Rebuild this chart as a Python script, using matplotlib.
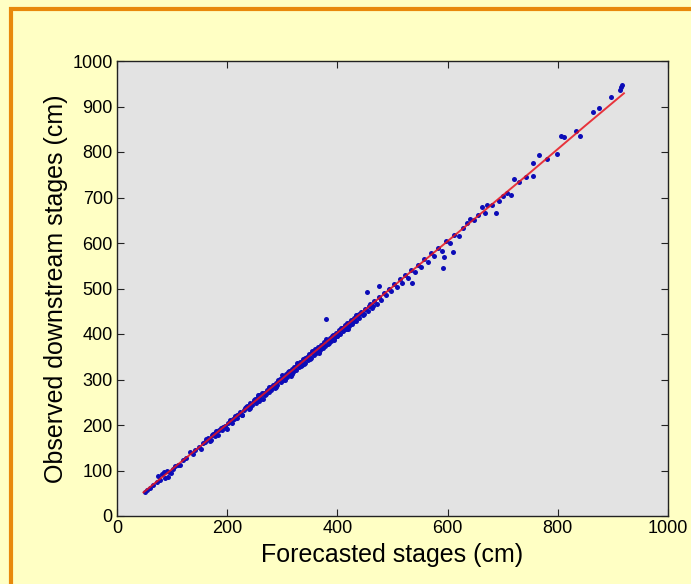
import numpy as np
import matplotlib.pyplot as plt

# forecasted vs observed downstream stages (cm)
forecast = [50, 55, 60, 66, 72, 75, 78, 82, 85, 88, 90, 92, 95, 98, 102, 106, 110, 115, 120, 126,
            132, 138, 142, 148, 152, 156, 160, 165, 168, 172, 175, 178, 180, 183, 186, 190, 193, 196, 199,
            202, 205, 208, 212, 215, 218, 221, 224, 227, 230, 233, 236, 239, 242, 245, 248, 250, 253, 256,
            258, 261, 264, 266, 269, 272, 275, 277, 280, 283, 285, 288, 291, 293, 296, 298, 301, 304, 306,
            309, 312, 314, 317, 320, 322, 325, 328, 330, 333, 336, 338, 341, 344, 346, 349, 352, 354, 357,
            360, 362, 365, 368, 370, 373, 376, 378, 379, 381, 384, 386, 389, 392, 394, 397, 400, 402, 405,
            408, 410, 413, 416, 418, 421, 424, 427, 430, 433, 436, 439, 442, 446, 450, 454, 455, 459, 463,
            467, 471, 475, 476, 480, 485, 489, 494, 498, 503, 508, 513, 518, 523, 528, 535, 534, 540, 546,
            552, 558, 564, 570, 576, 583, 590, 592, 594, 598, 605, 610, 612, 620, 628, 635, 641, 648, 655,
            662, 668, 671, 680, 688, 693, 700, 708, 715, 720, 730, 742, 755, 755, 766, 780, 799, 806, 812,
            833, 840, 864, 875, 897, 913, 915, 916,
            # extra points filling the dense middle band
            162, 170, 177, 188, 197, 210, 217, 226, 234, 241, 249, 257, 263, 271, 279, 286, 294, 302, 310,
            318, 326, 334, 342, 350, 358, 366, 374, 383, 391, 399, 407, 415, 423, 431, 440, 448, 457, 465,
            255, 265, 276, 289, 300, 315, 327, 340, 353, 367, 380, 393, 406, 420, 434]
observed = [53, 57, 62, 68, 75, 88, 80, 92, 97, 84, 99, 86, 96, 94, 104, 110, 112, 113, 122, 128,
            140, 136, 145, 151, 147, 160, 162, 172, 165, 178, 181, 175, 186, 179, 190, 188, 196, 198, 192,
            205, 210, 204, 214, 219, 216, 225, 228, 222, 234, 237, 242, 236, 248, 244, 252, 258, 249, 262,
            266, 257, 268, 271, 265, 277, 273, 282, 278, 288, 283, 292, 287, 298, 301, 295, 306, 300, 312,
            305, 318, 310, 322, 316, 328, 321, 334, 327, 338, 332, 344, 337, 350, 343, 355, 348, 360, 353,
            366, 359, 371, 364, 376, 369, 382, 374, 433, 387, 380, 392, 385, 398, 391, 403, 396, 408, 401,
            414, 406, 419, 412, 424, 417, 430, 423, 436, 429, 442, 435, 448, 441, 456, 492, 450, 465, 458,
            473, 467, 505, 481, 475, 491, 485, 500, 494, 509, 503, 520, 513, 529, 522, 512, 540, 536, 552,
            547, 565, 558, 577, 571, 590, 583, 545, 569, 604, 601, 580, 618, 615, 634, 644, 653, 650, 661,
            679, 666, 684, 683, 666, 692, 704, 710, 705, 741, 733, 746, 747, 776, 793, 784, 796, 835, 833,
            846, 835, 888, 897, 921, 936, 943, 947,
            170, 166, 183, 193, 194, 214, 222, 221, 240, 237, 256, 253, 270, 268, 284, 282, 298, 299, 316,
            313, 331, 330, 347, 346, 363, 362, 379, 378, 396, 395, 412, 410, 427, 428, 445, 444, 461, 462,
            266, 258, 284, 284, 309, 308, 336, 334, 362, 359, 388, 386, 414, 412, 441]

# fitted line
fit_x = [48, 150, 300, 450, 600, 750, 850, 920]
fit_y = [52, 152, 302, 453, 604, 755, 858, 929]

fig = plt.figure(figsize=(6.91, 5.84), dpi=100, facecolor='#FFFFC4')
# orange frame (only top and left edges visible in the picture)
fig.patches.append(plt.Rectangle((11 / 691, -0.05), 1.1, 1.05 - 9 / 584,
                                 transform=fig.transFigure, fill=False,
                                 edgecolor='#E8890C', linewidth=3))

ax = fig.add_axes([117 / 691, 68 / 584, 551 / 691, 455 / 584])
ax.set_facecolor('#E3E3E3')
ax.plot(forecast, observed, linestyle='none', marker='o', markersize=3.6,
        color='#0C0CB8', markeredgewidth=0, zorder=2)
# red fit drawn over the points, as in the picture
ax.plot(fit_x, fit_y, color='#E8141E', linewidth=1.4, alpha=0.85, zorder=3)

ax.set_xlim(0, 1000)
ax.set_ylim(0, 1000)
ax.set_xticks(np.arange(0, 1001, 200))
ax.set_yticks(np.arange(0, 1001, 100))
ax.tick_params(direction='in', length=5, top=True, right=True, labelsize=13,
               color='#222222', pad=3)
for s in ax.spines.values():
    s.set_color('#222222')
    s.set_linewidth(1)

ax.set_xlabel('Forecasted stages (cm)', fontsize=18, family='Liberation Sans', labelpad=4)
ax.set_ylabel('Observed downstream stages (cm)', fontsize=18, family='Liberation Sans', labelpad=3)
for lab in ax.get_xticklabels() + ax.get_yticklabels():
    lab.set_family('Liberation Sans')

plt.savefig('out.png', dpi=100, facecolor=fig.get_facecolor())
